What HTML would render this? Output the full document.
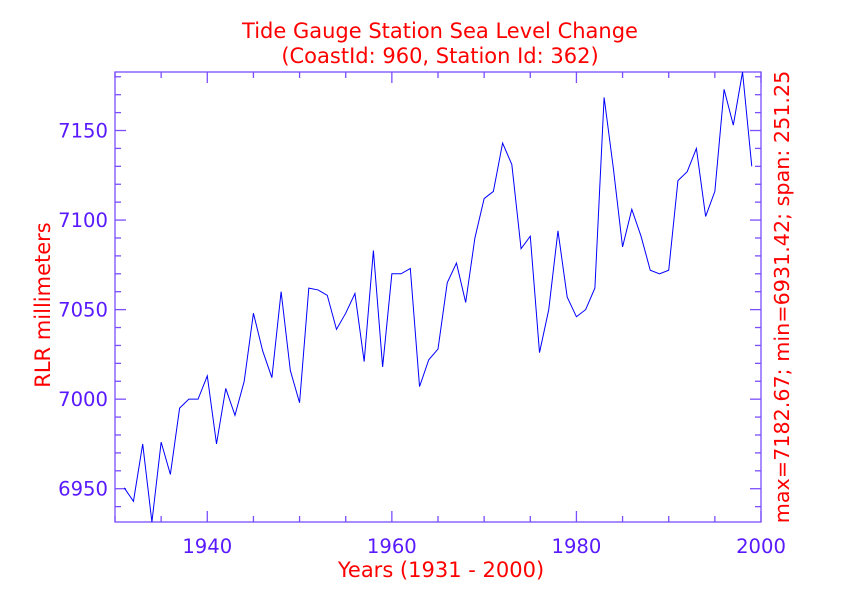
<!DOCTYPE html>
<html><head><meta charset="utf-8"><style>
html,body{margin:0;padding:0;background:#fff;}
svg{display:block;font-family:"DejaVu Sans","Liberation Sans",sans-serif;}
</style></head><body>
<svg id="chart" width="842" height="595" viewBox="0 0 842 595">
<text x="440" y="38" text-anchor="middle" font-size="21" fill="#ff0000">Tide Gauge Station Sea Level Change</text>
<text x="440" y="63" text-anchor="middle" font-size="21" fill="#ff0000">(CoastId: 960, Station Id: 362)</text>
<text x="441" y="577" text-anchor="middle" font-size="21" fill="#ff0000">Years (1931 - 2000)</text>
<text transform="translate(50,305) rotate(-90)" text-anchor="middle" font-size="21" fill="#ff0000">RLR millimeters</text>
<text transform="translate(789,297) rotate(-90)" text-anchor="middle" font-size="20.7" fill="#ff0000">max=7182.67; min=6931.42; span: 251.25</text>
<g id="axes"></g>
<g id="ticklabels"></g>
<polyline id="series" fill="none" stroke="#0000ff" stroke-width="1"></polyline>
</svg>
<script>
const years = [1931,1932,1933,1934,1935,1936,1937,1938,1939,1940,1941,1942,1943,1944,1945,1946,1947,1948,1949,1950,1951,1952,1953,1954,1955,1956,1957,1958,1959,1960,1961,1962,1963,1964,1965,1966,1967,1968,1969,1970,1971,1972,1973,1974,1975,1976,1977,1978,1979,1980,1981,1982,1983,1984,1985,1986,1987,1988,1989,1990,1991,1992,1993,1994,1995,1996,1997,1998,1999];
const levels = [6950.5,6943,6975,6931.42,6976,6958,6995,7000,7000,7013,6975,7006,6991,7010,7048,7027,7012,7060,7016,6998,7062,7061,7058,7039,7048,7059,7021,7083,7018,7070,7070,7073,7007,7022,7028,7065,7076,7054,7090,7112,7116,7143,7131,7084,7091,7026,7050,7094,7057,7046,7050,7062,7168.5,7129,7085,7106,7091,7072,7070,7072,7122,7127,7140,7102,7116,7173,7153,7182.67,7130];
const xTicks = [1940,1960,1980,2000];
const yTicks = [6950,7000,7050,7100,7150];

const L=115,R=761,T=72,B=522;
const xMin=1930,xMax=2000;
const yMin=Math.min(...levels), yMax=Math.max(...levels);
const xs=v=>L+(v-xMin)/(xMax-xMin)*(R-L);
const ys=v=>B-(v-yMin)/(yMax-yMin)*(B-T);
const NS="http://www.w3.org/2000/svg";
const axes=document.getElementById('axes');
const AX="#7a4dff";
function line(x1,y1,x2,y2,name){
  const l=document.createElementNS(NS,'line');
  l.setAttribute('x1',x1);l.setAttribute('y1',y1);l.setAttribute('x2',x2);l.setAttribute('y2',y2);
  l.setAttribute('stroke',AX);l.setAttribute('stroke-width','1.3');
  
  
  axes.appendChild(l);
}
const frame=document.createElementNS(NS,'rect');
frame.setAttribute('x',L);frame.setAttribute('y',T);frame.setAttribute('width',R-L);frame.setAttribute('height',B-T);
frame.setAttribute('fill','none');frame.setAttribute('stroke',AX);frame.setAttribute('stroke-width','1.3');


axes.appendChild(frame);
for(let y=1930;y<=2000;y+=5){
  const len=(y%20===0)?11:6, x=xs(y);
  line(x,B,x,B-len,'x-tick');
  line(x,T,x,T+len,'x-tick-top');
}
for(let v=6940;v<=7180;v+=10){
  const y=ys(v); if(y<T||y>B) continue;
  const len=(v%50===0)?11:6;
  line(L,y,L+len,y,'y-tick');
  line(R,y,R-len,y,'y-tick-right');
}
const tl=document.getElementById('ticklabels');
xTicks.forEach(v=>{
  const t=document.createElementNS(NS,'text');
  t.setAttribute('x',xs(v));t.setAttribute('y',B+31);t.setAttribute('text-anchor','middle');
  t.setAttribute('font-size','19.6');t.setAttribute('fill','#5a1aff');
  t.textContent=v;
  
  
  tl.appendChild(t);
});
yTicks.forEach(v=>{
  const t=document.createElementNS(NS,'text');
  t.setAttribute('x',L-7);t.setAttribute('y',ys(v)+7);t.setAttribute('text-anchor','end');
  t.setAttribute('font-size','19.6');t.setAttribute('fill','#5a1aff');
  t.textContent=v;
  
  
  tl.appendChild(t);
});
document.getElementById('series').setAttribute('points',years.map((y,i)=>xs(y).toFixed(2)+','+ys(levels[i]).toFixed(2)).join(' '));
</script>
</body></html>
